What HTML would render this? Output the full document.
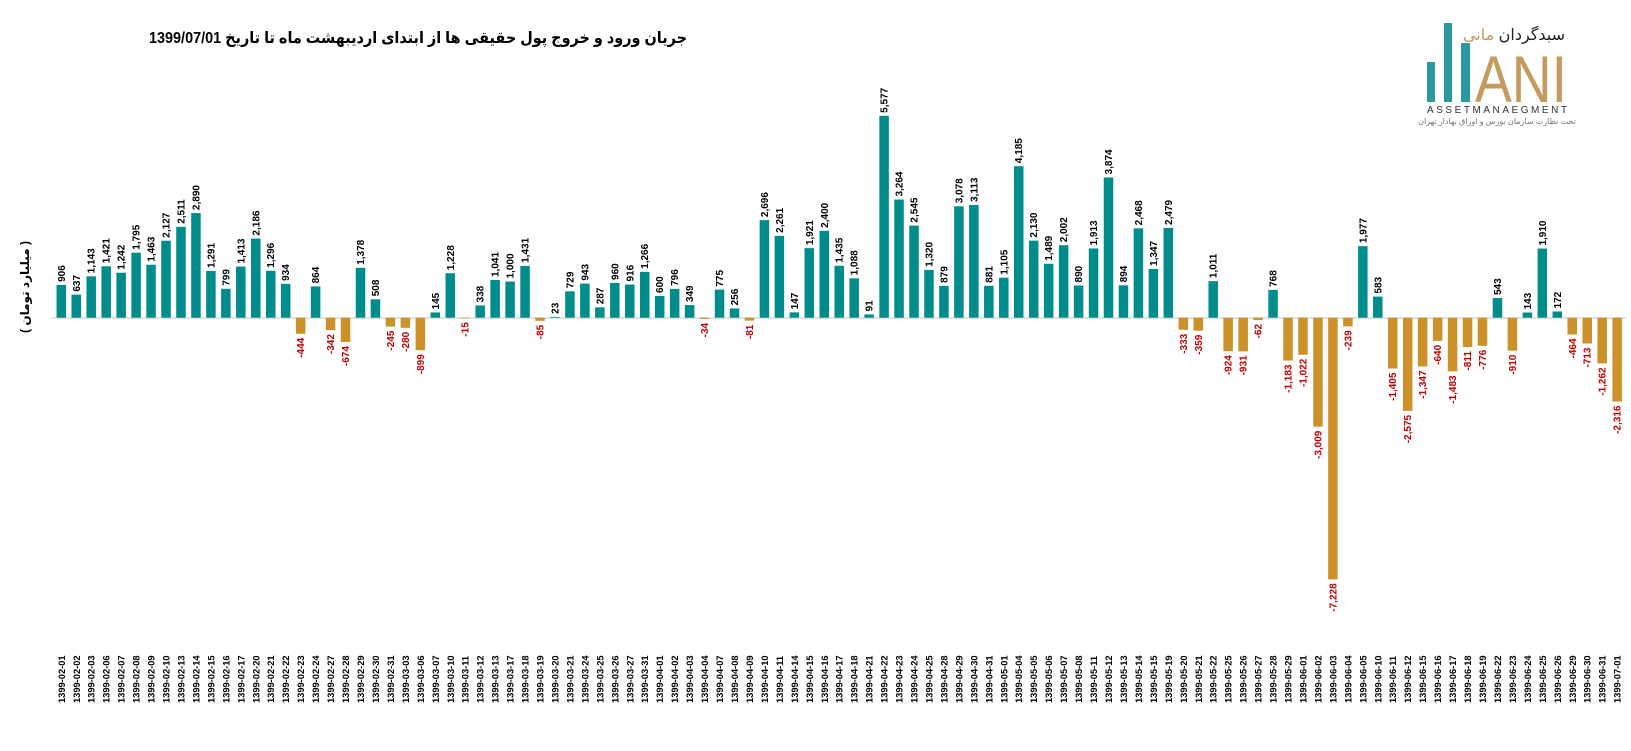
<!DOCTYPE html>
<html><head><meta charset="utf-8">
<style>
html,body{margin:0;padding:0;background:#fff;width:1631px;height:751px;overflow:hidden}
svg{display:block}
text{font-family:"Liberation Sans","DejaVu Sans",sans-serif}
.fa{font-family:"Liberation Sans","DejaVu Sans","Noto Sans CJK SC",sans-serif}
</style></head>
<body>
<svg id="c" width="1631" height="751" xmlns="http://www.w3.org/2000/svg">
<text x="418" y="43" text-anchor="middle" font-size="16" font-weight="bold" class="fa" direction="rtl" textLength="538" lengthAdjust="spacingAndGlyphs">جریان ورود و خروج پول حقیقی ها از ابتدای اردیبهشت ماه تا تاریخ 1399/07/01</text>
<text transform="translate(29,287) rotate(-90)" text-anchor="middle" font-size="12" font-weight="bold" class="fa" direction="rtl">( میلیارد تومان )</text>
<line x1="52" y1="318" x2="1626" y2="318" stroke="#d9d9d9" stroke-width="1.5"/>
<rect x="1427" y="62" width="8" height="40" fill="#2a9aa0"/>
<rect x="1444" y="23" width="8" height="79" fill="#2a9aa0"/>
<rect x="1461" y="43" width="9" height="59" fill="#2a9aa0"/>
<text x="1521" y="102" text-anchor="middle" font-size="66" font-family="Liberation Serif,serif" fill="#c49a5e" textLength="92" lengthAdjust="spacingAndGlyphs">ANI</text>
<text x="1514" y="40" text-anchor="middle" font-size="16" class="fa" fill="#222" direction="rtl">سبدگردان <tspan fill="#c49a5e">مانی</tspan></text>
<text x="1427" y="113" font-size="10" fill="#333" textLength="140" lengthAdjust="spacing">ASSETMANAEGMENT</text>
<text x="1497" y="124" text-anchor="middle" font-size="8" class="fa" fill="#777" direction="rtl">تحت نظارت سازمان بورس و اوراق بهادار تهران</text>
<g id="bars"></g>
</svg>
<script>
var d=["02-01","02-02","02-03","02-06","02-07","02-08","02-09","02-10","02-13","02-14","02-15","02-16","02-17","02-20","02-21","02-22","02-23","02-24","02-27","02-28","02-29","02-30","02-31","03-03","03-06","03-07","03-10","03-11","03-12","03-13","03-17","03-18","03-19","03-20","03-21","03-24","03-25","03-26","03-27","03-31","04-01","04-02","04-03","04-04","04-07","04-08","04-09","04-10","04-11","04-14","04-15","04-16","04-17","04-18","04-21","04-22","04-23","04-24","04-25","04-28","04-29","04-30","04-31","05-01","05-04","05-05","05-06","05-07","05-08","05-11","05-12","05-13","05-14","05-15","05-19","05-20","05-21","05-22","05-25","05-26","05-27","05-28","05-29","06-01","06-02","06-03","06-04","06-05","06-10","06-11","06-12","06-15","06-16","06-17","06-18","06-19","06-22","06-23","06-24","06-25","06-26","06-29","06-30","06-31","07-01"];
var v=[906,637,1143,1421,1242,1795,1463,2127,2511,2890,1291,799,1413,2186,1296,934,-444,864,-342,-674,1378,508,-245,-280,-899,145,1228,-15,338,1041,1000,1431,-85,23,729,943,287,960,916,1266,600,796,349,-34,775,256,-81,2696,2261,147,1921,2400,1435,1088,91,5577,3264,2545,1320,879,3078,3113,881,1105,4185,2130,1489,2002,890,1913,3874,894,2468,1347,2479,-333,-359,1011,-924,-931,-62,768,-1183,-1022,-3009,-7228,-239,1977,583,-1405,-2575,-1347,-640,-1483,-811,-776,543,-910,143,1910,172,-464,-713,-1262,-2316];
var g=document.getElementById('bars'),base=317.7,s=0.0362,h='';
function fmt(n){var a=Math.abs(n).toString().replace(/\B(?=(\d{3})+(?!\d))/g,",");return (n<0?"-":"")+a;}
for(var i=0;i<v.length;i++){
 var cx=61.3+i*14.96,val=v[i],hh=Math.abs(val)*s;
 if(val>=0){
  h+='<rect x="'+(cx-4.75)+'" y="'+(base-hh)+'" width="9.5" height="'+hh+'" fill="#008c8a"/>';
  h+='<text transform="translate('+(cx+3.5)+','+(base-hh-3)+') rotate(-90)" font-size="10" font-weight="bold" fill="#000">'+fmt(val)+'</text>';
 }else{
  h+='<rect x="'+(cx-4.75)+'" y="'+base+'" width="9.5" height="'+hh+'" fill="#cc9128"/>';
  h+='<text transform="translate('+(cx+3.5)+','+(base+hh+4)+') rotate(-90)" text-anchor="end" font-size="10" font-weight="bold" fill="#c00000">'+fmt(val)+'</text>';
 }
 h+='<text transform="translate('+(cx+3.5)+',703) rotate(-90)" font-size="9.3" font-weight="bold" fill="#000">1399-'+d[i]+'</text>';
}
g.innerHTML=h;
</script>
</body></html>
